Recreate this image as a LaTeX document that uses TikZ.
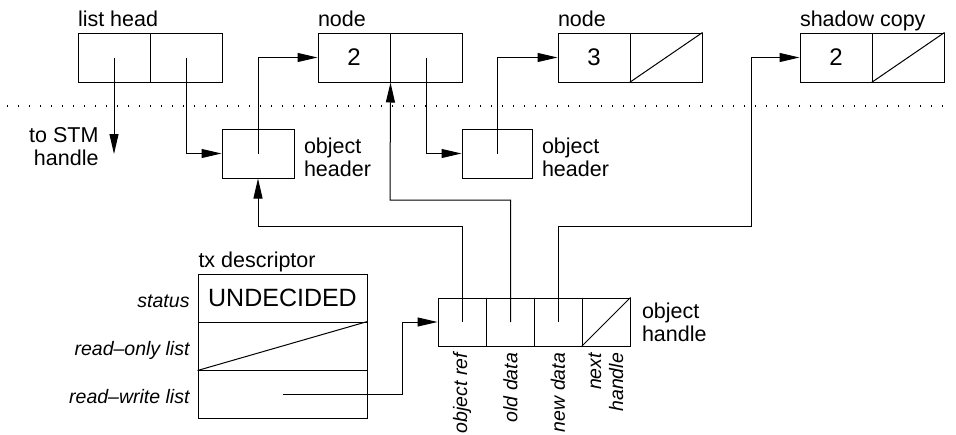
\documentclass[tikz,border=0pt]{standalone}
\usepackage{fontspec}
\setmainfont{Liberation Sans}
\usetikzlibrary{arrows.meta}
\begin{document}
\begin{tikzpicture}[x=1pt,y=-1pt,line width=1pt,
	cell/.style={draw,rectangle,inner sep=0pt,minimum width=72pt,minimum height=49pt},
	hcell/.style={cell,minimum width=48pt,minimum height=48pt},
	txcell/.style={cell,minimum width=169pt,minimum height=48pt},
	ptr/.style={-{Triangle[length=20pt,width=9pt]}},
	lbl/.style={inner sep=0pt,font=\fontsize{21.5}{23}\selectfont},
	fld/.style={inner sep=0pt,font=\fontsize{19.5}{22}\selectfont\itshape},
	val/.style={font=\fontsize{24}{26}\selectfont}]
	\useasboundingbox (0,0) rectangle (956,434);
	\draw[line width=1.2pt,dash pattern=on 1.2pt off 9.8pt] (7,106) -- (952,106);
	% top row: list head, nodes, shadow copy
	\node[cell] (lh1) at (114,57.5) {};
	\node[cell] (lh2) at (186,57.5) {};
	\node[cell,val] (n1a) at (354,57.5) {2};
	\node[cell] (n1b) at (426,57.5) {};
	\node[cell,val] (n2a) at (594,57.5) {3};
	\node[cell] (n2b) at (666,57.5) {};
	\node[cell,val] (sc1) at (836,57.5) {2};
	\node[cell] (sc2) at (908,57.5) {};
	\foreach \c in {n2b,sc2} \draw (\c.south west) -- (\c.north east);
	\node[lbl,anchor=base west] (lhlbl) at (lh1.north west|-0,26) {list head};
	\node[lbl,anchor=base west] (n1lbl) at (n1a.north west|-0,26) {node};
	\node[lbl,anchor=base west] (n2lbl) at (n2a.north west|-0,26) {node};
	\node[lbl,anchor=base west] (sclbl) at (sc1.north west|-0,26) {shadow copy};
	% object headers
	\node[cell] (oh1) at (258,153.5) {};
	\node[cell,minimum width=70pt] (oh2) at (497,153.5) {};
	\node[lbl,anchor=west,align=left,xshift=9pt,yshift=-4pt] (oh1lbl) at (oh1.east) {object\\header};
	\node[lbl,anchor=west,align=left,xshift=9pt,yshift=-4pt] (oh2lbl) at (oh2.east) {object\\header};
	\coordinate (stm) at (114,154);
	\node[lbl,anchor=east,align=right] (stmlbl) at (99,147) {to STM\\handle};
	% tx descriptor
	\node[txcell,font=\fontsize{25}{27}\selectfont] (st) at (282.5,298) {UNDECIDED};
	\node[txcell] (ro) at (282.5,346) {};
	\node[txcell] (rw) at (282.5,394) {};
	\draw (ro.south west) -- (ro.north east);
	\node[lbl,anchor=base west] (txlbl) at (198,267) {tx descriptor};
	\node[fld,anchor=base east] at (190,307) {status};
	\node[fld,anchor=base east] at (190,355) {read--only list};
	\node[fld,anchor=base east] at (190,403) {read--write list};
	% object handle
	\foreach \n/\x in {or/462,od/510.5,nd/558,nh/606}
	\node[hcell] (\n) at (\x,322) {};
	\draw (nh.south west) -- (nh.north east);
	\node[lbl,anchor=west,align=left,xshift=11pt] (hlbl) at (nh.east) {object\\handle};
	\foreach \n/\t in {or/object ref,od/old data,nd/new data}
	\node[fld,rotate=90,anchor=east] at ([yshift=-6pt]\n.south) {\t};
	\node[fld,rotate=90,anchor=east,align=right] at ([yshift=-6pt]nh.south) {next\\handle};
	% pointers
	\coordinate (j1) at (390,200);
	\coordinate (j2) at (258,226);
	\coordinate (j3) at (751,226);
	\coordinate (j4) at (402,394);
	\draw[ptr] (lh1.center) -- (stm);
	\draw[ptr] (lh2.center) |- (oh1.west);
	\draw[ptr] (oh1.center) |- (n1a.west);
	\draw[ptr] (n1b.center) |- (oh2.west);
	\draw[ptr] (oh2.center) |- (n2a.west);
	\draw[ptr] (od.center) |- (j1) -- (n1a.south east);
	\draw[ptr] (or.center) |- (j2) -- (oh1.south);
	\draw[ptr] (nd.center) |- (j3) |- (sc1.west);
	\draw[ptr] (rw.center) -- (j4) |- (or.west);
\end{tikzpicture}
\end{document}
